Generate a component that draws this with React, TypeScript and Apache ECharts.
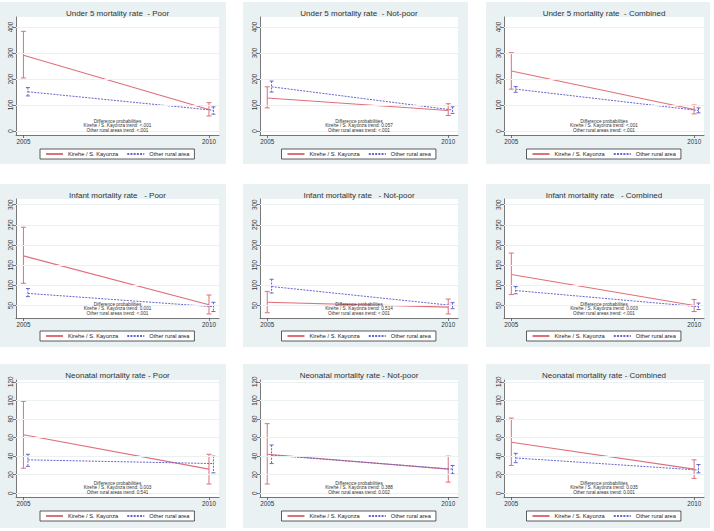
import React, { useEffect, useRef } from 'react';
import * as echarts from 'echarts';

// ---------- data ----------
const years = [2005, 2010];
const seriesNames = ['Kirehe / S. Kayonza', 'Other rural area'];
const panelTitles = [
  'Under 5 mortality rate  - Poor',
  'Under 5 mortality rate  - Not-poor',
  'Under 5 mortality rate  - Combined',
  'Infant mortality rate   - Poor',
  'Infant mortality rate   - Not-poor',
  'Infant mortality rate   - Combined',
  'Neonatal mortality rate - Poor',
  'Neonatal mortality rate - Not-poor',
  'Neonatal mortality rate - Combined',
];
const yTicksUnder5 = [0, 100, 200, 300, 400];
const yTicksInfant = [50, 100, 150, 200, 250, 300];
const yTicksNeonatal = [0, 20, 40, 60, 80, 100, 120];
const rowTicks = [yTicksUnder5, yTicksInfant, yTicksNeonatal];

// per panel, values at [2005, 2010]
const kireheMean = [[291, 83], [127, 79], [231, 83], [173, 52], [58, 46], [127, 50], [63, 26], [42, 26], [55, 26]];
const kireheLow = [[204, 58], [89, 60], [161, 66], [105, 29], [32, 29], [77, 35], [27, 10], [10, 12], [30, 16]];
const kireheHigh = [[383, 109], [170, 105], [301, 100], [244, 76], [85, 66], [180, 65], [99, 42], [75, 40], [81, 36]];
const otherMean = [[151, 80], [170, 81], [161, 79], [80, 47], [97, 50], [87, 47], [36, 32], [41, 26], [38, 25]];
const otherLow = [[135, 65], [150, 68], [149, 70], [72, 35], [81, 42], [79, 40], [29, 22], [32, 21], [33, 22]];
const otherHigh = [[167, 93], [192, 93], [171, 89], [92, 58], [115, 57], [97, 56], [42, 40], [52, 30], [43, 31]];
const otherYearOffset = 0.12;

const kirehePValues = ['<.001', '0.057', '<.001', '0.001', '0.514', '0.003', '0.003', '0.388', '0.035'];
const otherPValues = ['<.001', '<.001', '<.001', '<.001', '<.001', '<.001', '0.541', '0.002', '0.001'];

// ---------- layout ----------
const colBg = [[0, 226], [243, 468], [486, 710]];
const rowBg = [[2, 164], [184, 347], [364, 528]];
const colPlot = [[16, 219], [260, 458], [504, 704]];
const rowPlot = [[17, 135], [199, 318], [380, 497]];
const yRanges = [[-15, 438], [19, 314], [-4, 122]];
const xRange = [2004.8, 2010.27];

const RED = '#de707a';
const BLUE = '#6565cf';
const FONT = 'Liberation Sans, Arial, sans-serif';
const PANEL_BG = '#e9f1f3';
const GRIDLINE = '#ebf0f2';

function makeCI(color: string, dash: number[] | null, capHalf: number) {
  return (params: any, api: any) => {
    const x = api.value(0);
    const lo = api.value(1);
    const hi = api.value(2);
    const top = api.coord([x, hi]);
    const bot = api.coord([x, lo]);
    return {
      type: 'group',
      children: [
        { type: 'line', shape: { x1: top[0], y1: top[1], x2: bot[0], y2: bot[1] }, style: { stroke: color, lineWidth: 1, lineDash: dash || undefined } },
        { type: 'line', shape: { x1: top[0] - capHalf, y1: top[1], x2: top[0] + capHalf, y2: top[1] }, style: { stroke: color, lineWidth: 1 } },
        { type: 'line', shape: { x1: bot[0] - capHalf, y1: bot[1], x2: bot[0] + capHalf, y2: bot[1] }, style: { stroke: color, lineWidth: 1 } },
      ],
    };
  };
}

function buildOption() {
  const grid: any[] = [];
  const xAxis: any[] = [];
  const yAxis: any[] = [];
  const series: any[] = [];
  const legend: any[] = [];
  const graphic: any[] = [];

  for (let i = 0; i < 9; i++) {
    const r = Math.floor(i / 3);
    const c = i % 3;
    const [pl, pr] = colPlot[c];
    const [pt, pb] = rowPlot[r];
    const cx = (pl + pr) / 2;
    const ticks = rowTicks[r];

    graphic.push({
      type: 'rect', z: -20, silent: true,
      shape: { x: colBg[c][0], y: rowBg[r][0], width: colBg[c][1] - colBg[c][0], height: rowBg[r][1] - rowBg[r][0] },
      style: { fill: PANEL_BG },
    });
    graphic.push({
      type: 'rect', z: -10, silent: true,
      shape: { x: pl, y: pt, width: pr - pl, height: pb - pt },
      style: { fill: '#ffffff' },
    });
    graphic.push({
      type: 'text', z: 10, x: cx, y: rowBg[r][0] + 11,
      style: { text: panelTitles[i], fontSize: 8, fontWeight: 'normal', fontFamily: FONT, fill: '#333333', align: 'center', verticalAlign: 'middle' },
    });
    const ann = ['Difference probabilities', 'Kirehe / S. Kayonza trend: ' + kirehePValues[i], 'Other rural areas trend: ' + otherPValues[i]];
    const offs = [14, 9.3, 4.6];
    ann.forEach((t, k) => {
      graphic.push({
        type: 'text', z: 10, x: cx, y: pb - offs[k],
        style: { text: t, fontSize: 4.7, fontWeight: 'normal', fontFamily: FONT, fill: '#333', align: 'center', verticalAlign: 'middle' },
      });
    });

    grid.push({ left: pl, top: pt, width: pr - pl, height: pb - pt, containLabel: false, show: false });

    xAxis.push({
      gridIndex: i, type: 'value', min: xRange[0], max: xRange[1],
      axisLine: { show: true, onZero: false, lineStyle: { color: '#555', width: 0.8 } },
      axisTick: { show: true, customValues: years, length: 3, lineStyle: { color: '#555', width: 0.8 } },
      axisLabel: { customValues: years, fontSize: 6.3, color: '#333', margin: 3, fontFamily: FONT, formatter: (v: number) => String(v) },
      splitLine: { show: false },
    });
    yAxis.push({
      gridIndex: i, type: 'value', min: yRanges[r][0], max: yRanges[r][1],
      axisLine: { show: true, onZero: false, lineStyle: { color: '#555', width: 0.8 } },
      axisTick: { show: true, customValues: ticks, length: 3, lineStyle: { color: '#555', width: 0.8 } },
      axisLabel: { customValues: ticks, fontSize: 6.3, color: '#333', margin: 3, rotate: 90, fontFamily: FONT, formatter: (v: number) => String(v) },
      splitLine: { show: false },
    });

    series.push({
      type: 'line', name: 'gridlines-' + i, xAxisIndex: i, yAxisIndex: i, data: [], z: 1, silent: true,
      markLine: {
        silent: true, symbol: 'none', label: { show: false },
        lineStyle: { color: GRIDLINE, width: 1, type: 'solid' },
        data: ticks.map((v) => ({ yAxis: v })),
      },
    });
    series.push({
      type: 'line', name: seriesNames[0], xAxisIndex: i, yAxisIndex: i, z: 3,
      data: years.map((y, k) => [y, kireheMean[i][k]]),
      symbol: 'none', lineStyle: { color: RED, width: 1.1 }, itemStyle: { color: RED },
    });
    series.push({
      type: 'line', name: seriesNames[1], xAxisIndex: i, yAxisIndex: i, z: 4,
      data: years.map((y, k) => [y + otherYearOffset, otherMean[i][k]]),
      symbol: 'none', lineStyle: { color: BLUE, width: 1, type: [2, 1.2] }, itemStyle: { color: BLUE },
    });
    series.push({
      type: 'custom', name: 'ci-kirehe-' + i, xAxisIndex: i, yAxisIndex: i, z: 3,
      data: years.map((y, k) => [y, kireheLow[i][k], kireheHigh[i][k]]),
      encode: { x: 0, y: [1, 2] },
      renderItem: makeCI(RED, null, 2.5),
    });
    series.push({
      type: 'custom', name: 'ci-other-' + i, xAxisIndex: i, yAxisIndex: i, z: 4,
      data: years.map((y, k) => [y + otherYearOffset, otherLow[i][k], otherHigh[i][k]]),
      encode: { x: 0, y: [1, 2] },
      renderItem: makeCI(BLUE, [2, 1.2], 2),
    });

    legend.push({
      left: cx - 77.5, top: rowBg[r][0] + 147, orient: 'horizontal',
      data: seriesNames, itemWidth: 17, itemHeight: 6, itemGap: 8,
      padding: [2, 5, 2, 5], borderColor: '#333', borderWidth: 0.8, backgroundColor: '#ffffff', borderRadius: 0,
      selectedMode: false,
      itemStyle: { opacity: 0 },
      textStyle: { fontSize: 5.7, color: '#222', fontFamily: FONT },
    });
  }

  return {
    animation: false,
    backgroundColor: '#ffffff',
    grid, xAxis, yAxis, series, legend, graphic,
  };
}

export default function App() {
  const ref = useRef<HTMLDivElement>(null);
  useEffect(() => {
    if (!ref.current) return;
    const chart = echarts.init(ref.current, null, { renderer: 'svg' });
    chart.setOption(buildOption() as any);
    return () => chart.dispose();
  }, []);
  return <div ref={ref} style={{ position: 'absolute', left: 0, top: 0, width: 714, height: 531 }} />;
}
